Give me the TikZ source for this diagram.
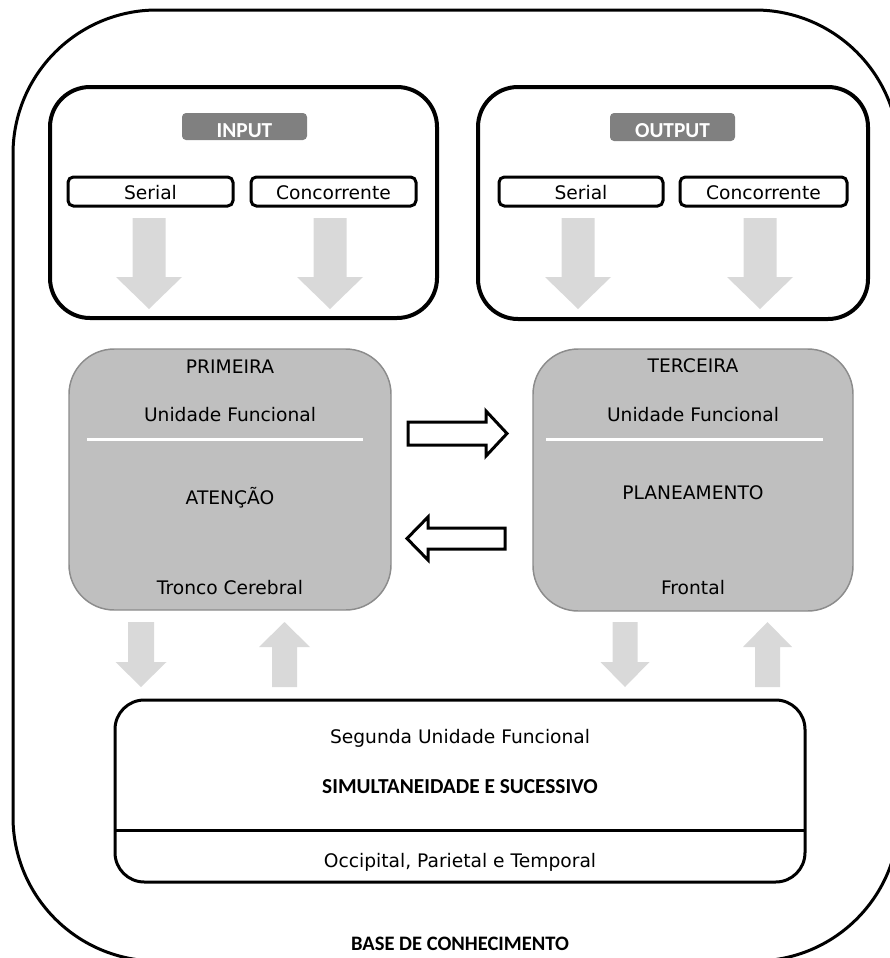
\documentclass[tikz,border=0pt]{standalone}
\usepackage{fontspec}
\setmainfont{DejaVu Sans}
\newfontfamily\labelfont{Carlito}
\usetikzlibrary{fit}

\definecolor{unitgray}{HTML}{BFBFBF}
\definecolor{unitedge}{HTML}{8C8C8C}
\definecolor{flowgray}{HTML}{D9D9D9}
\definecolor{tabgray}{HTML}{808080}

\tikzset{
  % light grey block arrow pointing along +y from its origin:
  % shaft half width, head half width, shaft length, head length
  pics/blockarrow/.style n args={4}{code={
    \fill[flowgray] (-#1,0) -- (#1,0) -- (#1,#3) -- (#2,#3) -- (0,#3+#4)
      -- (-#2,#3) -- (-#1,#3) -- cycle;
  }}
}

\begin{document}
\begin{tikzpicture}[x=0.75pt,y=-0.75pt,
  every node/.style={inner sep=0pt, outer sep=0pt},
  frame/.style={draw, line width=2.25pt, rounded corners=108pt},
  iobox/.style={draw, line width=3pt, rounded corners=30pt},
  tab/.style={fill=tabgray, rounded corners=3pt},
  tabtext/.style={text=white, anchor=base, font=\labelfont\bfseries\fontsize{16}{18}\selectfont},
  modebox/.style={draw, line width=2.25pt, rounded corners=4pt, fill=white},
  unitbox/.style={draw=unitedge, line width=1.1pt, fill=unitgray, rounded corners=34pt},
  lowerbox/.style={draw, line width=2.25pt, rounded corners=22pt},
  body/.style={anchor=base, font=\fontsize{14}{16}\selectfont},
  strong/.style={anchor=base, font=\labelfont\bfseries\fontsize{16}{18}\selectfont},
  divider/.style={white, line width=2.25pt},
  hollow/.style={draw, line width=2.25pt, fill=white, line join=miter},
]
\useasboundingbox (0,0) rectangle (890,958);
\clip (0,0) rectangle (890,958);

% knowledge base frame around everything
\node[frame, fit={(13,10) (899,961)}] (base) {};
\node[strong, font=\labelfont\bfseries\fontsize{15.4}{17}\selectfont] (baselabel) at (460,950) {BASE DE CONHECIMENTO};

% input panel
\node[iobox, fit={(50,87) (437,318)}] (inbox) {};
\node[tab, fit={(182,113) (307,140)}] (intab) {};
\node[tabtext] (intabtext) at (244.5,137) {INPUT};
\node[modebox, fit={(68,177) (233,206)}] (inserial) {};
\node[body] (inseriallabel) at (inserial.center |- 0,199.5) {Serial};
\node[modebox, fit={(251,177) (416,206)}] (inconc) {};
\node[body] (inconclabel) at (inconc.center |- 0,199.5) {Concorrente};
\pic at (149,218) {blockarrow={16.5}{33}{59}{32}};
\pic at (330,218) {blockarrow={16.5}{33}{59}{32}};

% output panel
\node[iobox, fit={(478,87) (868,319)}] (outbox) {};
\node[tab, fit={(610,113) (735,141)}] (outtab) {};
\node[tabtext] (outtabtext) at (672.5,137) {OUTPUT};
\node[modebox, fit={(499,177) (663,206)}] (outserial) {};
\node[body] (outseriallabel) at (outserial.center |- 0,199.5) {Serial};
\node[modebox, fit={(680,177) (847,206)}] (outconc) {};
\node[body] (outconclabel) at (outconc.center |- 0,199.5) {Concorrente};
\pic at (578,218) {blockarrow={16.5}{33}{59}{32}};
\pic at (760,218) {blockarrow={16.5}{33}{59}{32}};

% first functional unit
\node[unitbox, fit={(69,349) (391,610)}] (first) {};
\node[body] (firsttitle) at (230,373) {PRIMEIRA};
\node[body] (firstunit) at (230,421.5) {Unidade Funcional};
\draw[divider] (87,439) -- (363,439);
\node[body] (firstname) at (230,504) {ATENÇÃO};
\node[body] (firstarea) at (230,594) {Tronco Cerebral};

% third functional unit
\node[unitbox, fit={(533,349) (853,611)}] (third) {};
\node[body] (thirdtitle) at (693,372) {TERCEIRA};
\node[body] (thirdunit) at (693,421.5) {Unidade Funcional};
\draw[divider] (546,439) -- (823,439);
\node[body] (thirdname) at (693,499) {PLANEAMENTO};
\node[body] (thirdarea) at (693,594) {Frontal};

% exchange between first and third units
\draw[hollow] (408,422) -- (486,422) -- (486,411) -- (507,433.5) -- (486,456)
  -- (486,445) -- (408,445) -- cycle;
\draw[hollow] (505,528) -- (428,528) -- (428,517) -- (407,538.5) -- (428,560)
  -- (428,549) -- (505,549) -- cycle;

% links with the second unit
\pic at (141,622) {blockarrow={13}{25.5}{40}{25}};
\pic[yscale=-1] at (284.5,687) {blockarrow={12.5}{25.5}{40}{25}};
\pic at (625,622) {blockarrow={12.5}{24.5}{40}{25}};
\pic[yscale=-1] at (767.5,687) {blockarrow={12.5}{24.5}{40}{25}};

% second functional unit
\node[lowerbox, fit={(115,700) (805,882)}] (second) {};
\draw[line width=2.25pt] (115,830) -- (805,830);
\node[body] (secondunit) at (460,743) {Segunda Unidade Funcional};
\node[strong] (secondname) at (460,793) {SIMULTANEIDADE E SUCESSIVO};
\node[body] (secondarea) at (460,867) {Occipital, Parietal e Temporal};
\end{tikzpicture}
\end{document}
